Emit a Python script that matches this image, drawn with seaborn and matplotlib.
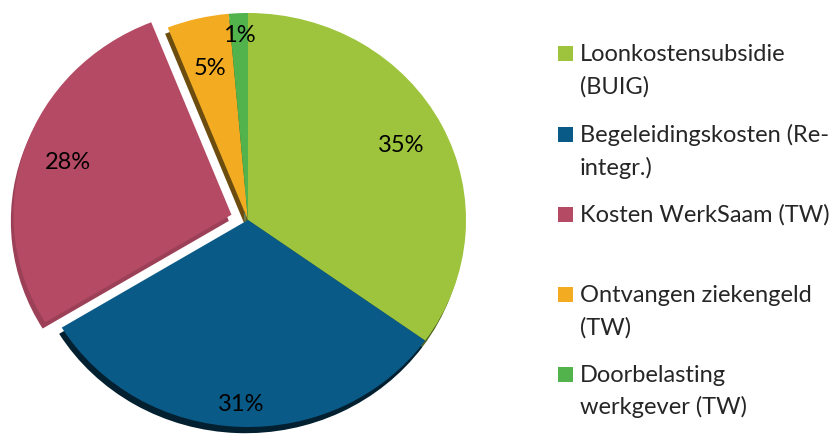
import matplotlib.pyplot as plt
import seaborn as sns
import numpy as np
from matplotlib.patches import Rectangle
from matplotlib.colors import to_rgb

# data
categorieen = ["Loonkostensubsidie\n(BUIG)",
               "Begeleidingskosten (Re-\nintegr.)",
               "Kosten WerkSaam (TW)",
               "Ontvangen ziekengeld\n(TW)",
               "Doorbelasting\nwerkgever (TW)"]
aandeel = [34.9, 31.4, 27.7, 4.6, 1.4]
kleuren = ["#9DC43C", "#0A5A88", "#B54A65", "#F3AC22", "#52B24C"]
uitgelicht = [0, 0, 0.08, 0, 0]
label_afstand = [0.79, 0.89, 0.79, 0.75, 0.89]
schaduw = [0.5, 0.35, 0.86, 0.45, 0.5]

sns.set_theme(style="white")
plt.rcParams['font.family'] = ['Lato', 'DejaVu Sans']

fig = plt.figure(figsize=(8.4, 4.38), dpi=100)
W, H = 840, 438
ax = fig.add_axes([0, 0, 500 / W, 1])

# zijkant / schaduw voor het 3D-effect
donker = [tuple(c * f for c in to_rgb(k)) for k, f in zip(kleuren, schaduw)]
ax.pie(aandeel, colors=donker, startangle=90, counterclock=False,
       explode=uitgelicht, center=(-0.012, -0.03),
       wedgeprops=dict(linewidth=0))

wedges, _, pct = ax.pie(aandeel, colors=kleuren, startangle=90, counterclock=False,
                        explode=uitgelicht, autopct=lambda p: f"{p:.0f}%",
                        pctdistance=0.8, textprops=dict(fontsize=17, color="black"),
                        wedgeprops=dict(linewidth=0))

# labels op eigen afstand
for w, t, r, e in zip(wedges, pct, label_afstand, uitgelicht):
    a = np.deg2rad((w.theta1 + w.theta2) / 2)
    t.set_position(((r + e) * np.cos(a), (r + e) * np.sin(a)))

# iets ellips-vormig zoals het origineel (rx 218px, ry 207px)
cx, cy = 248, 438 - 220
ax.set_aspect('auto')
ax.set_xlim(-cx / 218, (500 - cx) / 218)
ax.set_ylim(-cy / 207, (H - cy) / 207)
ax.axis('off')

# legenda
basislijn = [61, 142, 222, 302, 382]
for naam, kleur, y in zip(categorieen, kleuren, basislijn):
    fig.patches.append(Rectangle((558 / W, 1 - y / H), 15 / W, 15 / H,
                                 transform=fig.transFigure, facecolor=kleur,
                                 edgecolor='none'))
    for i, regel in enumerate(naam.split("\n")):
        fig.text(580 / W, 1 - (y + i * 32.5) / H, regel, fontsize=17,
                 va='baseline', ha='left')

fig.savefig("out.png", dpi=100)
